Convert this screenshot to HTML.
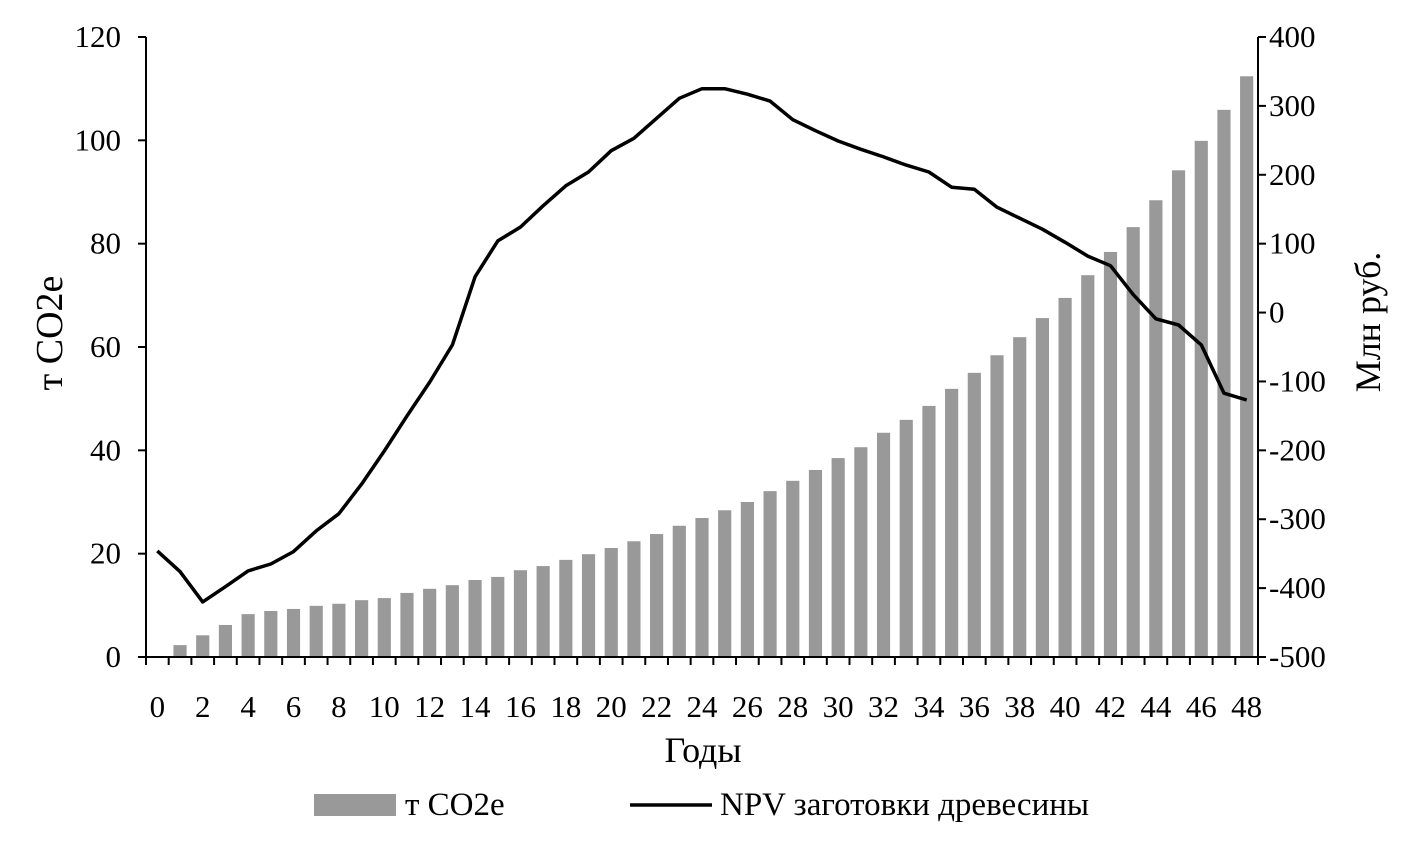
<!DOCTYPE html>
<html><head><meta charset="utf-8"><style>
body{margin:0;background:#fff;}
svg{display:block;font-family:"Liberation Serif","DejaVu Serif",serif;}
</style></head><body>
<svg id="chart" width="1414" height="858"></svg>
<script>
const years=[];for(let i=0;i<=48;i++)years.push(i);
const co2=[0,2.3,4.2,6.2,8.3,8.9,9.3,9.9,10.3,11,11.4,12.4,13.2,13.9,14.9,15.5,16.8,17.6,18.8,19.9,21.1,22.4,23.8,25.4,26.9,28.4,30,32.1,34.1,36.2,38.5,40.6,43.4,45.9,48.6,51.9,55,58.4,61.9,65.6,69.5,73.9,78.4,83.2,88.4,94.2,99.9,105.9,112.4];
const npv=[-346,-376,-420,-398,-375,-365,-347,-317,-292,-249,-201,-150,-101,-47,52,104,124,155,184,204,235,253,282,311,325,325,317,307,280,264,249,237,226,214,204,182,179,153,137,121,102,82,68,26,-9,-18,-47,-117,-127];
const leftTicks=[0,20,40,60,80,100,120];
const rightTicks=[-500,-400,-300,-200,-100,0,100,200,300,400];
const xLabels=[0,2,4,6,8,10,12,14,16,18,20,22,24,26,28,30,32,34,36,38,40,42,44,46,48];

const svg=document.getElementById('chart');
const NS='http://www.w3.org/2000/svg';
const L=146,R=1258,T=37,B=657;
const band=(R-L)/years.length;
const xc=i=>L+band*(i+0.5);
const yL=v=>B-(v/120)*(B-T);
const yR=v=>B-((v+500)/900)*(B-T);
function mk(tag,a,parent){const e=document.createElementNS(NS,tag);for(const k in a)e.setAttribute(k,a[k]);(parent||svg).appendChild(e);return e;}

const bars=mk('g',{});


co2.forEach((v,i)=>{if(v<=0)return;const w=band*0.58;
const r=mk('rect',{x:xc(i)-w/2,y:yL(v),width:w,height:B-yL(v),fill:'#999'},bars);

});

const ax=mk('g',{stroke:'#000','stroke-width':2,fill:'none'});


mk('line',{x1:L,y1:T,x2:L,y2:B},ax);
mk('line',{x1:R,y1:T,x2:R,y2:B},ax);
mk('line',{x1:L,y1:B,x2:R,y2:B},ax);
leftTicks.forEach(v=>mk('line',{x1:L-8,y1:yL(v),x2:L,y2:yL(v)},ax));
rightTicks.forEach(v=>mk('line',{x1:R,y1:yR(v),x2:R+8,y2:yR(v)},ax));
for(let i=0;i<=years.length;i++)mk('line',{x1:L+band*i,y1:B,x2:L+band*i,y2:B+8},ax);

const tl=mk('g',{'font-size':31,fill:'#000'});


leftTicks.forEach(v=>{const t=mk('text',{x:L-25,y:yL(v)+10,'text-anchor':'end'},tl);t.textContent=v;});
rightTicks.forEach(v=>{const t=mk('text',{x:R+11,y:yR(v)+10,'text-anchor':'start'},tl);t.textContent=v;});
xLabels.forEach(v=>{const t=mk('text',{x:xc(v),y:B+60,'text-anchor':'middle'},tl);t.textContent=v;});

let d='';npv.forEach((v,i)=>{d+=(i?'L':'M')+xc(i).toFixed(1)+' '+yR(v).toFixed(1);});
const ln=mk('path',{d:d,stroke:'#000','stroke-width':3.5,fill:'none','stroke-linejoin':'round'});



const yt=mk('text',{x:0,y:0,'font-size':38,'text-anchor':'middle',transform:'translate(62,333) rotate(-90)'});
yt.textContent='т CO2e';


const yt2=mk('text',{x:0,y:0,'font-size':36,'text-anchor':'middle',transform:'translate(1380,322) rotate(-90)'});
yt2.textContent='Млн руб.';


const xt=mk('text',{x:703,y:762,'font-size':36,'text-anchor':'middle'});
xt.textContent='Годы';



const lg=mk('g',{});


mk('rect',{x:314,y:794,width:82,height:22,fill:'#999'},lg);
const l1=mk('text',{x:405,y:815,'font-size':33},lg);l1.textContent='т CO2e';


mk('line',{x1:630,y1:805,x2:712,y2:805,stroke:'#000','stroke-width':3.5},lg);
const l2=mk('text',{x:720,y:815,'font-size':33},lg);l2.textContent='NPV заготовки древесины';


</script>
</body></html>
